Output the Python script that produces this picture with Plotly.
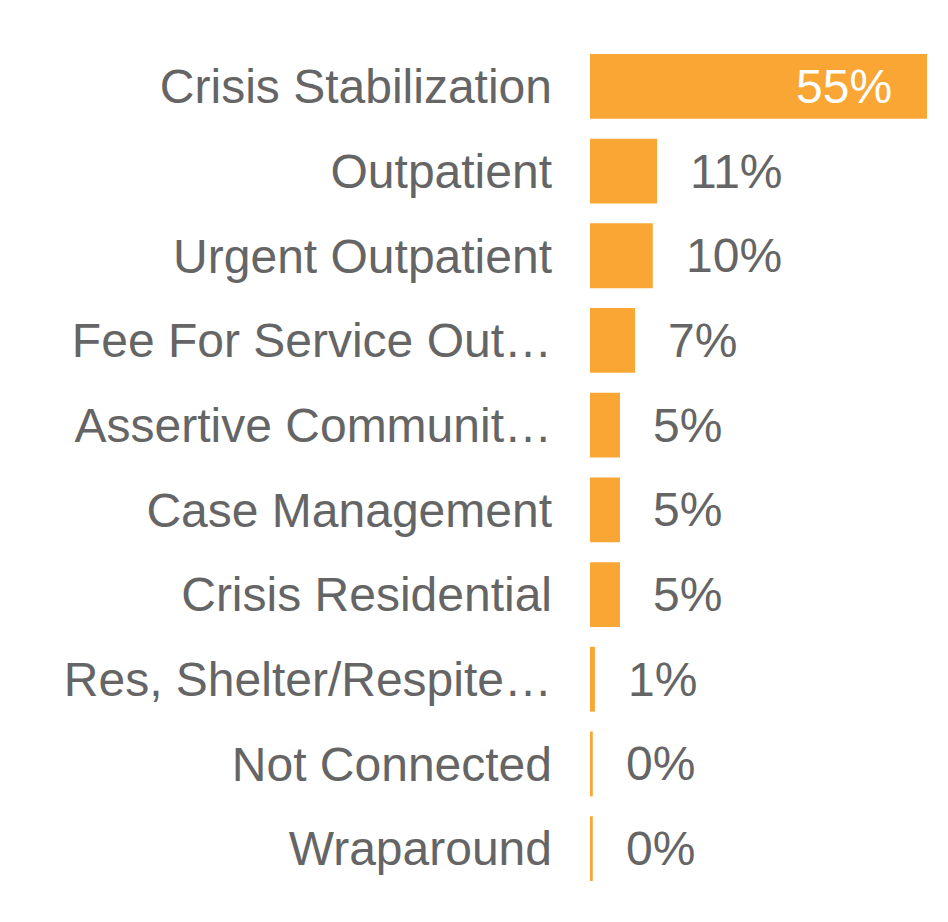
import plotly.graph_objects as go

categories = ["Crisis Stabilization", "Outpatient", "Urgent Outpatient", "Fee For Service Out…",
              "Assertive Communit…", "Case Management", "Crisis Residential",
              "Res, Shelter/Respite…", "Not Connected", "Wraparound"]
values = [55.0, 10.95, 10.25, 7.35, 4.9, 4.9, 4.9, 0.8, 0.45, 0.45]
labels = ["55%", "11%", "10%", "7%", "5%", "5%", "5%", "1%", "0%", "0%"]

BAR = "#F9A634"
GRAY = "#656565"
FONT = "Arial, Liberation Sans, sans-serif"

fig = go.Figure(go.Bar(
    y=categories, x=values, orientation="h",
    marker=dict(color=BAR, line=dict(width=0)),
    hoverinfo="skip",
))

annotations = []
for i, (c, v, t) in enumerate(zip(categories, values, labels)):
    if i == 0:
        annotations.append(dict(x=v, y=c, xref="x", yref="y", text=t, showarrow=False,
                                xanchor="right", yanchor="middle", xshift=-33,
                                font=dict(family=FONT, size=48, color="white")))
    else:
        annotations.append(dict(x=v, y=c, xref="x", yref="y", text=t, showarrow=False,
                                xanchor="left", yanchor="middle", xshift=31,
                                font=dict(family=FONT, size=48, color=GRAY)))

fig.update_layout(
    width=948, height=922,
    margin=dict(l=582, r=29, t=36, b=39),
    paper_bgcolor="white", plot_bgcolor="white",
    bargap=0.235,
    showlegend=False,
    annotations=annotations,
    font=dict(family=FONT, size=48, color=GRAY),
    xaxis=dict(range=[0, 55], visible=False, fixedrange=True),
    yaxis=dict(autorange="reversed", showgrid=False, zeroline=False, showline=False,
               ticks="", ticklabelstandoff=37,
               tickfont=dict(family=FONT, size=48, color=GRAY), fixedrange=True),
)

fig.write_html("out.html", config={"displayModeBar": False})
